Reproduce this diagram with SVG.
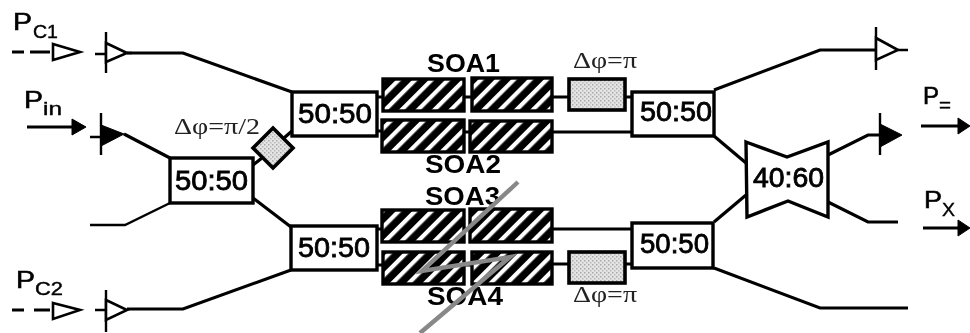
<svg xmlns="http://www.w3.org/2000/svg" width="970" height="333" viewBox="0 0 970 333">
<style>
.w{fill:none;stroke:#000;stroke-width:3.2;stroke-linejoin:miter}
.thin{fill:none;stroke:#000;stroke-width:2.4}
.box{fill:#fff;stroke:#000;stroke-width:3.4}
.soa{fill:url(#hatch);stroke:#000;stroke-width:3.4}
.ps{fill:url(#dots);stroke:#000;stroke-width:3.6}
.open{fill:#fff;stroke:#000;stroke-width:2.6}
.solid{fill:#000;stroke:#000;stroke-width:1}
.s{font-family:"Liberation Sans",Arial,sans-serif;fill:#000}
.b{font-weight:bold;font-size:26px}
.r{font-size:27px;stroke:#000;stroke-width:.8}
.p{font-size:23px;stroke:#000;stroke-width:.6}
.sub{font-size:18px;stroke:#000;stroke-width:.4}
.g{font-family:"Liberation Serif","Times New Roman",serif;font-size:24px;fill:#222}
</style>
<defs>
<pattern id="hatch" width="11.6" height="12" patternUnits="userSpaceOnUse" patternTransform="rotate(45)">
<rect width="11.6" height="12" fill="#000"/><rect width="4.2" height="12" fill="#fff"/>
</pattern>
<pattern id="dots" width="4" height="4" patternUnits="userSpaceOnUse">
<rect width="4" height="4" fill="#e4e4e4"/><rect width="1.5" height="1.5" fill="#aaa"/><rect x="2" y="2" width="1.5" height="1.5" fill="#bbb"/>
</pattern>
<filter id="soft" x="0" y="0" width="100%" height="100%"><feGaussianBlur stdDeviation=".45"/></filter>
</defs>
<rect width="970" height="333" fill="#fff"/>
<g filter="url(#soft)">
<g id="connectors">
<path class="w" d="M127 53H183L292 92"/>
<path class="w" d="M124 134L170 158"/>
<path class="thin" d="M90 225H125L170 203"/>
<path class="w" d="M253 198L291 227"/>
<path class="w" d="M291 270L183 309H127"/>
<path class="w" d="M253 165L262 158M284 138L292 131"/>
<path class="w" d="M377 97H382M464 97H471M552 97H568M625 97H632"/>
<path class="w" d="M377 131H382M464 132H469M552 132H632"/>
<path class="w" d="M377 229H382M464 229H469M552 229H632"/>
<path class="w" d="M377 265H382M464 265H471M552 264H568M625 264H632"/>
<path class="w" d="M714 90L820 50H876"/>
<path class="w" d="M714 136L746 163"/>
<path class="w" d="M714 222L746 195"/>
<path class="w" d="M714 268L820 308H908"/>
<path class="w" d="M828 155L868 135H880"/>
<path class="w" d="M828 202L868 222H898"/>
<path class="w" d="M12 52H24M30 52H50"/>
<path class="w" d="M12 310H24M34 310H50"/>
<path class="w" d="M27 127H72"/>
<path class="w" d="M921 126H960"/>
<path class="w" d="M923 228H960"/>
<path class="solid" d="M72 119L86 127L72 135Z"/>
<path class="solid" d="M958 118L970 126L958 134Z"/>
<path class="solid" d="M958 220L970 228L958 236Z"/>
</g>
<g id="pc1-arrow"><path class="open" d="M53 44L80 52L53 60Z"/></g>
<g id="pc2-arrow"><path class="open" d="M53 303L80 310L53 319Z"/></g>
<g id="coupler-c1"><path class="thin" d="M106 32V73M95 54H106M127 53H132"/><path class="open" d="M106 43L127 53L106 62Z"/></g>
<g id="coupler-in"><path class="thin" d="M101 113V155M90 137H101"/><path class="solid" d="M101 125L124 134L101 146Z"/></g>
<g id="coupler-c2"><path class="thin" d="M106 290V332M95 310H106"/><path class="open" d="M106 300L127 310L106 320Z"/></g>
<g id="out-top"><path class="thin" d="M876 27V70M898 50H908"/><path class="open" d="M876 38L898 50L876 60Z"/></g>
<g id="out-eq"><path class="thin" d="M880 113V155"/><path class="solid" d="M880 124L902 135L880 147Z"/></g>
<g id="coupler-input"><rect class="box" x="170" y="158" width="83" height="45"/><text class="s r" x="175" y="190" textLength="73" lengthAdjust="spacingAndGlyphs">50:50</text></g>
<g id="coupler-upper-left"><rect class="box" x="292" y="92" width="85" height="44"/><text class="s r" x="298" y="123" textLength="74" lengthAdjust="spacingAndGlyphs">50:50</text></g>
<g id="coupler-lower-left"><rect class="box" x="291" y="226" width="86" height="44"/><text class="s r" x="298" y="257" textLength="72" lengthAdjust="spacingAndGlyphs">50:50</text></g>
<g id="coupler-upper-right"><rect class="box" x="632" y="92" width="82" height="44"/><text class="s r" x="640" y="121" textLength="72" lengthAdjust="spacingAndGlyphs">50:50</text></g>
<g id="coupler-lower-right"><rect class="box" x="632" y="223" width="81" height="45"/><text class="s r" x="640" y="253" textLength="69" lengthAdjust="spacingAndGlyphs">50:50</text></g>
<g id="coupler-4060"><path class="box" d="M746 142L787 157L828 142V217L788 201L747 217Z"/><text class="s r" x="753" y="187" textLength="71" lengthAdjust="spacingAndGlyphs">40:60</text></g>
<g id="phase-90"><path class="ps" d="M273 128L293 148L273 168L253 148Z"/><text class="g" x="174" y="134" textLength="86" lengthAdjust="spacingAndGlyphs">Δφ=π/2</text></g>
<g id="soa1"><rect class="soa" x="383" y="79" width="81" height="32"/><rect class="soa" x="472" y="78" width="80" height="33"/><text class="s b" x="427" y="72" textLength="73" lengthAdjust="spacingAndGlyphs">SOA1</text></g>
<g id="soa2"><rect class="soa" x="382" y="120" width="82" height="32"/><rect class="soa" x="470" y="121" width="82" height="31"/><text class="s b" x="425" y="173" textLength="76" lengthAdjust="spacingAndGlyphs">SOA2</text></g>
<g id="soa3"><rect class="soa" x="382" y="210" width="82" height="32"/><rect class="soa" x="470" y="209" width="82" height="33"/><text class="s b" x="425" y="205" textLength="75" lengthAdjust="spacingAndGlyphs">SOA3</text></g>
<g id="soa4"><rect class="soa" x="383" y="252" width="81" height="32"/><rect class="soa" x="472" y="252" width="80" height="32"/><text class="s b" x="427" y="305" textLength="76" lengthAdjust="spacingAndGlyphs">SOA4</text></g>
<g id="phase-top"><rect class="ps" x="569" y="79" width="56" height="31"/><text class="g" x="573" y="68" textLength="64" lengthAdjust="spacingAndGlyphs">Δφ=π</text></g>
<g id="phase-bottom"><rect class="ps" x="569" y="252" width="56" height="31"/><text class="g" x="573" y="302" textLength="64" lengthAdjust="spacingAndGlyphs">Δφ=π</text></g>
<g id="labels">
<text class="s p" x="13" y="30" textLength="19" lengthAdjust="spacingAndGlyphs">P</text><text class="s sub" x="33" y="38" textLength="25" lengthAdjust="spacingAndGlyphs">C1</text>
<text class="s p" x="24" y="108" textLength="19" lengthAdjust="spacingAndGlyphs">P</text><text class="s sub" x="43" y="115" textLength="19" lengthAdjust="spacingAndGlyphs">in</text>
<text class="s p" x="16" y="288" textLength="19" lengthAdjust="spacingAndGlyphs">P</text><text class="s sub" x="35" y="295" textLength="28" lengthAdjust="spacingAndGlyphs">C2</text>
<text class="s p" x="923" y="104" textLength="16" lengthAdjust="spacingAndGlyphs">P</text><text class="s sub" x="939" y="111" textLength="12" lengthAdjust="spacingAndGlyphs">=</text>
<text class="s p" x="924" y="208" textLength="18" lengthAdjust="spacingAndGlyphs">P</text><text class="s sub" x="942" y="216" textLength="13" lengthAdjust="spacingAndGlyphs">X</text>
</g>
<g id="strike"><path d="M518 182L422 271L510 257L420 333" fill="none" stroke="#888" stroke-width="4.4"/></g>
</g>
</svg>
